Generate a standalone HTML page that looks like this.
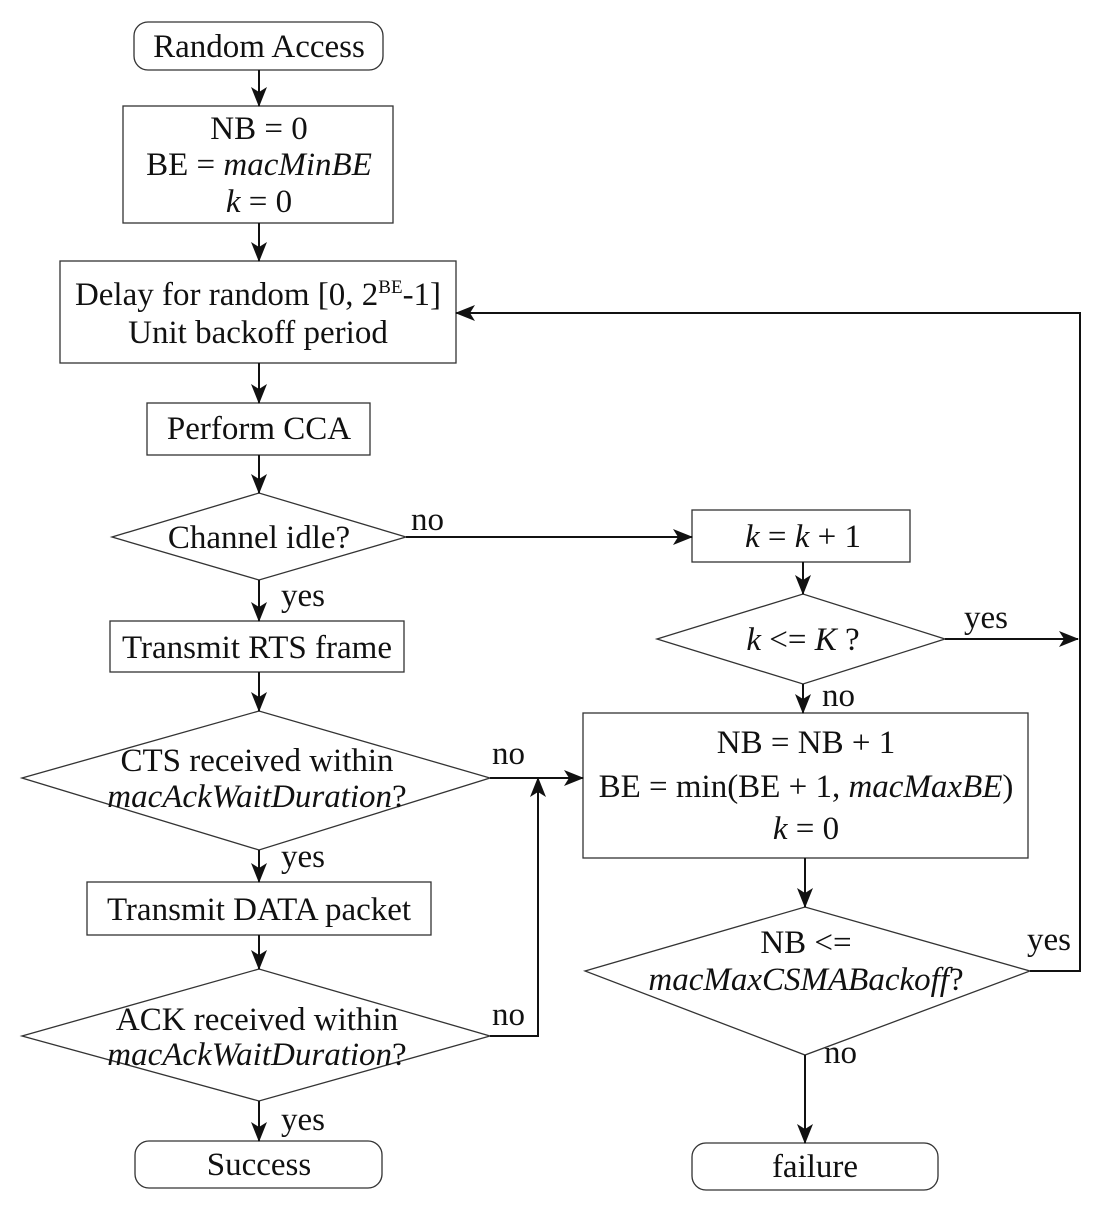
<!DOCTYPE html>
<html><head><style>html,body{margin:0;padding:0;background:#fff}svg{display:block}text{font-family:"Liberation Serif",serif;font-size:33px;fill:#111}</style></head>
<body>
<svg width="1106" height="1206" viewBox="0 0 1106 1206" xmlns="http://www.w3.org/2000/svg">
<defs><marker id="b" markerWidth="20" markerHeight="16" refX="19" refY="8" orient="auto" markerUnits="userSpaceOnUse"><path d="M0,0 L20,8 L0,16 L5,8 Z" fill="#111"/></marker></defs>
<g fill="none" stroke="#333" stroke-width="1.3">
<rect x="134" y="22" width="249" height="48" rx="14"/>
<rect x="123" y="106" width="270" height="117"/>
<rect x="60" y="261" width="396" height="102"/>
<rect x="147" y="403" width="223" height="52"/>
<polygon points="112,537 259,493 406,537 259,580"/>
<rect x="110" y="621" width="294" height="51"/>
<polygon points="22,778 259,711 490,778 259,850"/>
<rect x="87" y="882" width="344" height="53"/>
<polygon points="22,1036 259,969 490,1036 259,1101"/>
<rect x="135" y="1141" width="247" height="47" rx="14"/>
<rect x="692" y="510" width="218" height="52"/>
<polygon points="657,639 803,594 945,639 803,684"/>
<rect x="583" y="713" width="445" height="145"/>
<polygon points="585,971 805,907 1030,971 805,1055"/>
<rect x="692" y="1143" width="246" height="47" rx="14"/>
</g>
<g stroke="#111" stroke-width="2" fill="none" marker-end="url(#b)">
<line x1="259" y1="70" x2="259" y2="106"/>
<line x1="259" y1="223" x2="259" y2="261"/>
<line x1="259" y1="363" x2="259" y2="403"/>
<line x1="259" y1="455" x2="259" y2="493"/>
<line x1="259" y1="580" x2="259" y2="621"/>
<line x1="259" y1="672" x2="259" y2="711"/>
<line x1="259" y1="850" x2="259" y2="882"/>
<line x1="259" y1="935" x2="259" y2="969"/>
<line x1="259" y1="1101" x2="259" y2="1141"/>
<line x1="406" y1="537" x2="692" y2="537"/>
<line x1="803" y1="562" x2="803" y2="594"/>
<line x1="803" y1="684" x2="803" y2="713"/>
<line x1="945" y1="639" x2="1078" y2="639"/>
<line x1="805" y1="858" x2="805" y2="907"/>
<line x1="805" y1="1055" x2="805" y2="1143"/>
<line x1="490" y1="778" x2="583" y2="778"/>
<polyline points="490,1036 538,1036 538,778"/>
<polyline points="1030,971 1080,971 1080,313 456,313"/>
</g>
<g text-anchor="middle">
<text x="259" y="57">Random Access</text>
<text x="259" y="139">NB = 0</text>
<text x="259" y="175">BE = <tspan font-style="italic">macMinBE</tspan></text>
<text x="259" y="212"><tspan font-style="italic">k</tspan> = 0</text>
<text x="258" y="305">Delay for random [0, 2<tspan font-size="19" dy="-12">BE</tspan><tspan dy="12">-1]</tspan></text>
<text x="258" y="343">Unit backoff period</text>
<text x="259" y="439">Perform CCA</text>
<text x="259" y="548">Channel idle?</text>
<text x="257" y="658">Transmit RTS frame</text>
<text x="257" y="771">CTS received within</text>
<text x="257" y="807"><tspan font-style="italic">macAckWaitDuration</tspan>?</text>
<text x="259" y="920">Transmit DATA packet</text>
<text x="257" y="1030">ACK received within</text>
<text x="257" y="1065"><tspan font-style="italic">macAckWaitDuration</tspan>?</text>
<text x="259" y="1175">Success</text>
<text x="803" y="547"><tspan font-style="italic">k</tspan> = <tspan font-style="italic">k</tspan> + 1</text>
<text x="803" y="650"><tspan font-style="italic">k</tspan> &lt;= <tspan font-style="italic">K</tspan> ?</text>
<text x="806" y="753">NB = NB + 1</text>
<text x="806" y="797">BE = min(BE + 1, <tspan font-style="italic">macMaxBE</tspan>)</text>
<text x="806" y="839"><tspan font-style="italic">k</tspan> = 0</text>
<text x="806" y="953">NB &lt;=</text>
<text x="806" y="990"><tspan font-style="italic">macMaxCSMABackoff</tspan>?</text>
<text x="815" y="1177">failure</text>
</g>
<g>
<text x="411" y="530">no</text>
<text x="281" y="606">yes</text>
<text x="281" y="867">yes</text>
<text x="281" y="1130">yes</text>
<text x="492" y="764">no</text>
<text x="492" y="1025">no</text>
<text x="964" y="628">yes</text>
<text x="822" y="706">no</text>
<text x="1027" y="950">yes</text>
<text x="824" y="1063">no</text>
</g>
</svg>
</body></html>
